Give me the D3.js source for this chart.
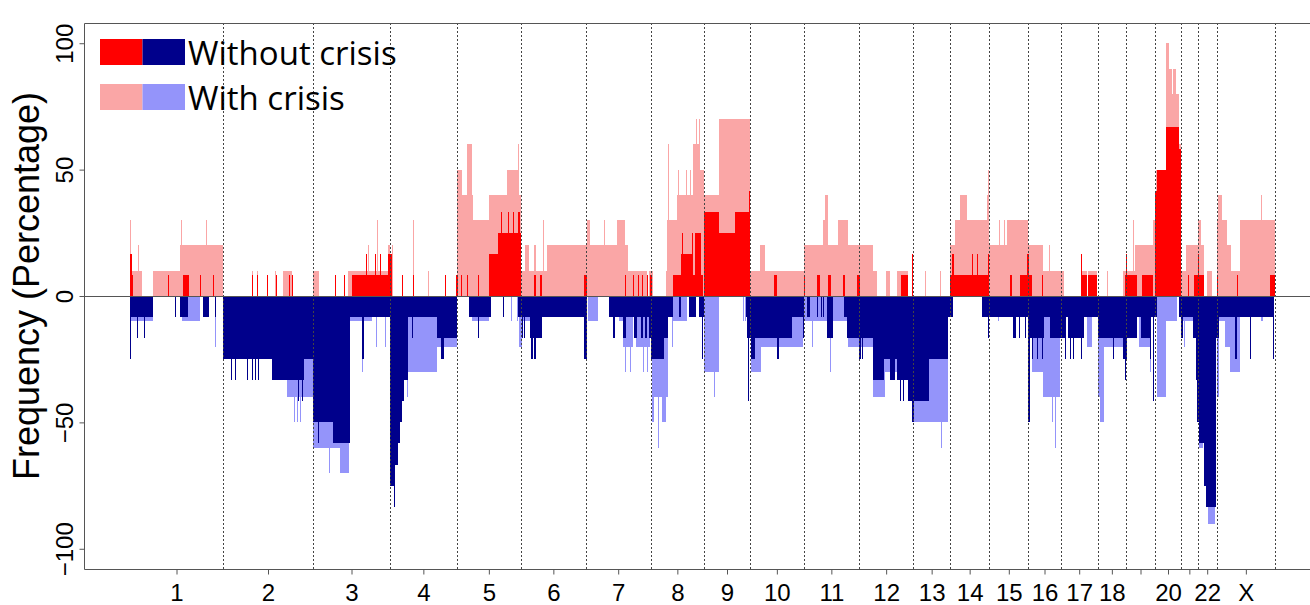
<!DOCTYPE html>
<html>
<head>
<meta charset="utf-8">
<script src="https://cdn.jsdelivr.net/npm/d3@7"></script>
<style>
  body { margin: 0; background: #fff; }
  svg { display: block; }
</style>
</head>
<body>
<svg id="chart" width="1310" height="605"></svg>
<script>
// chromosomes in plotting order, sizes in probe units
const chromosomes = ["1", "2", "3", "4", "5", "6", "7", "8", "9", "10", "11", "12",
  "13", "14", "15", "16", "17", "18", "19", "20", "21", "22", "X"];
const chromSizes = [93, 90, 77, 66.7, 64.3, 64.7, 65, 53.3, 46, 53.7, 55.3, 54.3,
  36.7, 39.3, 39, 32.4, 37, 28.3, 29, 26, 16.7, 19, 58.3];
// R drops the labels of 19 and 21 (no room)
const chromLabels = ["1", "2", "3", "4", "5", "6", "7", "8", "9", "10", "11", "12",
  "13", "14", "15", "16", "17", "18", "", "20", "", "22", "X"];
const yTicks = [-100, -50, 0, 50, 100];

// segments: [chromosome, start, end, frequency %]
const gainWithCrisis = [
  ["1", 0, 1, 30], ["1", 1, 11.7, 10], ["1", 7.5, 8.5, 20], ["1", 22.7, 50, 10], ["1", 50, 93, 20],
  ["1", 51, 52, 30], ["1", 75.5, 76.5, 30],
  ["2", 29, 30, 10], ["2", 34, 35, 10], ["2", 52, 53, 10], ["2", 60.3, 68.7, 10],
  ["3", 0, 6.3, 10], ["3", 35.3, 77, 10], ["3", 54.7, 55.7, 20], ["3", 63.7, 64.7, 30], ["3", 75, 77, 20],
  ["4", 2, 3, 20], ["4", 23, 24, 30], ["4", 38, 39, 10],
  ["5", 0, 5, 50], ["5", 5, 10, 40], ["5", 10, 15, 60], ["5", 15, 16.6, 40], ["5", 16.6, 32.6, 30],
  ["5", 32.6, 50, 40], ["5", 50, 62.3, 50], ["5", 62.3, 64.3, 40], ["5", 61, 62, 60],
  ["6", 0, 4.3, 10], ["6", 4.3, 8.3, 20], ["6", 8.3, 13, 10], ["6", 13, 15, 20], ["6", 15, 25.7, 10],
  ["6", 21.5, 22.5, 30], ["6", 25.7, 64.7, 20],
  ["7", 0, 42.6, 20], ["7", 1, 4.3, 30], ["7", 18.3, 19.3, 30], ["7", 31, 39.3, 30],
  ["7", 42.6, 61, 10], ["7", 63.5, 65, 10],
  ["8", 0, 2.6, 10], ["8", 15.5, 16.5, 10], ["8", 16.6, 26.6, 30], ["8", 17.2, 18.2, 60],
  ["8", 26.6, 42.6, 40], ["8", 26.8, 27.8, 50], ["8", 35.5, 36.5, 50], ["8", 39, 40, 50],
  ["8", 42.6, 49.3, 60], ["8", 45.5, 46.5, 70], ["8", 48.3, 49.3, 70], ["8", 49.3, 53.3, 50],
  ["9", 0, 15.3, 40], ["9", 15.3, 46, 70],
  ["10", 0, 53.7, 10], ["10", 10, 15, 20],
  ["11", 0, 19.6, 20], ["11", 19.6, 24.6, 30], ["11", 21.3, 24, 40], ["11", 24.6, 34.6, 20],
  ["11", 34.6, 44.6, 30], ["11", 44.6, 55.3, 20],
  ["12", 0, 14.3, 20], ["12", 14.3, 17.7, 10], ["12", 27, 31, 10], ["12", 37.7, 48.7, 10],
  ["13", 12, 13, 10], ["13", 26.7, 27.7, 10],
  ["14", 0, 5, 20], ["14", 5, 10, 30], ["14", 10, 17.3, 40], ["14", 17.3, 36.7, 30],
  ["14", 36.7, 39.3, 40], ["14", 38, 39, 50],
  ["15", 0, 17.4, 20], ["15", 17.4, 39, 30], ["15", 10, 11, 30], ["15", 14.7, 15.7, 30],
  ["16", 0, 14.4, 20], ["16", 14.4, 32.4, 10], ["16", 21, 22, 20],
  ["17", 0, 3.3, 10], ["17", 20.3, 26, 10], ["17", 27.6, 36.6, 10],
  ["18", 9, 10, 10], ["18", 25.6, 28.3, 10],
  ["19", 0, 9, 10], ["19", 7, 8, 30], ["19", 9, 26.7, 20], ["19", 26.7, 29, 30],
  ["20", 0, 0.7, 30], ["20", 0.7, 11, 50], ["20", 11, 14.3, 100], ["20", 14.3, 16.7, 90],
  ["20", 16.7, 18.3, 80], ["20", 18.3, 21, 90], ["20", 21, 24.3, 80], ["20", 24.3, 26, 60],
  ["21", 0, 5, 10], ["21", 5, 16.7, 20],
  ["22", 0, 6.6, 20], ["22", 0.6, 3, 30], ["22", 9, 14, 10],
  ["X", 0, 2.6, 30], ["X", 1.6, 5, 40], ["X", 5, 10, 30], ["X", 10, 14, 20], ["X", 14, 23.3, 10],
  ["X", 23.3, 58.3, 30], ["X", 44.5, 45.5, 40]
];

const gainWithoutCrisis = [
  ["1", 0, 1.7, 16.7], ["1", 1.7, 3.3, 8.3], ["1", 38, 39, 8.3], ["1", 52.7, 59, 8.3],
  ["1", 70, 71, 8.3], ["1", 83, 84, 8.3],
  ["2", 29, 30, 8.3], ["2", 33.5, 34.5, 8.3], ["2", 43.5, 44.5, 8.3], ["2", 52.5, 53.5, 8.3],
  ["2", 66, 67, 8.3], ["2", 68.5, 69.5, 8.3],
  ["3", 22, 23, 8.3], ["3", 31, 32, 8.3], ["3", 38.7, 75.3, 8.3], ["3", 52.5, 53.5, 16.7],
  ["3", 61.5, 62.5, 16.7], ["3", 66.5, 67.5, 16.7], ["3", 74.5, 77, 16.7],
  ["4", 0, 1.5, 16.7], ["4", 11.5, 12.5, 8.3], ["4", 23, 24, 8.3], ["4", 55, 56, 8.3], ["4", 65.5, 66.7, 8.3],
  ["5", 0, 0.7, 8.3], ["5", 4, 5, 8.3], ["5", 10, 11, 8.3], ["5", 21, 22, 8.3], ["5", 32.6, 64.3, 8.3],
  ["5", 32.6, 41.6, 16.7], ["5", 41.6, 64.3, 25], ["5", 44, 45, 33.3], ["5", 51.6, 52.6, 33.3],
  ["5", 56, 57, 33.3], ["5", 61, 63.3, 33.3],
  ["6", 13.3, 14.7, 8.3], ["6", 19, 20.7, 8.3], ["6", 63, 64.7, 8.3],
  ["7", 0, 1, 8.3], ["7", 39.3, 40.3, 8.3], ["7", 47.6, 48.6, 8.3], ["7", 52.6, 53.6, 8.3],
  ["7", 56, 57, 8.3], ["7", 61, 62, 8.3], ["7", 64.3, 65, 8.3],
  ["8", 0, 1.6, 8.3], ["8", 22.6, 52.6, 8.3], ["8", 30, 42.6, 16.7], ["8", 31.6, 32.6, 25],
  ["8", 41, 42, 25], ["8", 44.3, 50, 25],
  ["9", 0, 15.3, 33.3], ["9", 15.3, 31, 25], ["9", 31, 46, 33.3], ["9", 45, 46, 41.7],
  ["10", 24.3, 26.7, 8.3],
  ["11", 0, 1.3, 8.3], ["11", 13.3, 16.3, 8.3], ["11", 24.3, 27, 8.3], ["11", 39.3, 41.3, 8.3],
  ["11", 53, 55.3, 8.3],
  ["12", 0, 1, 8.3], ["12", 42, 48.7, 8.3], ["12", 53, 54.3, 16.7],
  ["14", 0, 39.3, 8.3], ["14", 1.7, 4, 16.7], ["14", 21.7, 22.7, 16.7], ["14", 26.7, 27.7, 16.7],
  ["14", 37.7, 39.3, 16.7],
  ["15", 20.7, 22.7, 8.3], ["15", 30.7, 39, 8.3], ["15", 37.4, 39, 16.7],
  ["16", 0, 3.4, 8.3], ["16", 0, 1, 16.7], ["16", 13.4, 14.4, 8.3],
  ["17", 20.3, 26, 8.3], ["17", 20.6, 21.6, 16.7], ["17", 27.6, 36.6, 8.3],
  ["18", 27, 28.3, 8.3],
  ["19", 0, 10.7, 8.3], ["19", 0, 0.7, 16.7], ["19", 15.7, 27.3, 8.3],
  ["20", 0, 1.7, 41.7], ["20", 1.7, 11, 50], ["20", 11, 24.3, 66.7], ["20", 24.3, 26, 58.3],
  ["21", 7.3, 8.3, 8.3], ["21", 13.3, 16.7, 8.3],
  ["22", 0, 6.6, 8.3], ["22", 0, 1, 16.7],
  ["X", 0, 0.8, 8.3], ["X", 20, 21, 8.3], ["X", 53.3, 58.3, 8.3]
];

const lossWithCrisis = [
  ["1", 1, 23.3, -10], ["1", 52, 70, -10], ["1", 85, 86, -20],
  ["2", 63.7, 90, -40], ["2", 71, 72, -50], ["2", 74, 75, -50], ["2", 77, 78, -50],
  ["3", 0, 27, -60], ["3", 16, 17, -70], ["3", 27, 36, -70], ["3", 37, 59, -10],
  ["3", 49, 50, -30], ["3", 63, 64, -20], ["3", 72, 73, -20],
  ["4", 16.5, 17.5, -40], ["4", 17.5, 47, -30], ["4", 47, 66.7, -20],
  ["5", 15, 32.6, -10], ["5", 54, 55, -10], ["5", 60, 61, -10], ["5", 62, 64.3, -20],
  ["6", 0, 9.7, -10], ["6", 0, 1, -20],
  ["7", 2, 12.6, -10], ["7", 33.3, 37.6, -10], ["7", 37.6, 47.6, -20], ["7", 39.3, 40.3, -30],
  ["7", 44.3, 45.3, -30], ["7", 50.3, 64.3, -20], ["7", 57.6, 58.6, -30], ["7", 61, 62, -30],
  ["8", 1, 17.6, -40], ["8", 1.6, 3.3, -50], ["8", 11.6, 15, -50], ["8", 7.6, 8.6, -60],
  ["8", 21, 22, -20], ["8", 22.6, 36, -10],
  ["9", 0, 15.3, -30], ["9", 10, 11, -40], ["9", 39, 40, -10], ["9", 40.5, 41.5, -10],
  ["10", 0.7, 53.3, -20], ["10", 0.7, 10.7, -30],
  ["11", 0, 23, -10], ["11", 8, 9, -20], ["11", 26.3, 27.3, -30], ["11", 29.6, 43, -10],
  ["11", 44.6, 55.3, -20],
  ["12", 0, 14.3, -20], ["12", 14.3, 26, -40], ["12", 26, 37.7, -30], ["12", 52.7, 54.3, -50],
  ["13", 0, 35, -50], ["13", 27.4, 28.4, -60],
  ["15", 9, 10, -10], ["15", 24, 25, -10],
  ["16", 3.4, 31.7, -30], ["16", 15, 31.7, -40], ["16", 24, 25, -50], ["16", 26.7, 27.7, -60],
  ["17", 4, 5, -20], ["17", 25.9, 31, -20],
  ["18", 0.6, 6.3, -40], ["18", 2.3, 6.3, -50], ["18", 5.6, 25.6, -20],
  ["19", 12.7, 24.7, -20], ["19", 23.5, 24.5, -30],
  ["20", 2.3, 11, -40], ["20", 11, 22, -10],
  ["21", 1.7, 12.3, -10], ["21", 3, 4, -20],
  ["22", 1.3, 5.6, -60], ["22", 10.6, 17.3, -90],
  ["X", 0, 2.6, -40], ["X", 2.6, 16.6, -10], ["X", 8.3, 23.3, -20], ["X", 13.3, 23.3, -30],
  ["X", 44, 46, -10]
];

const lossWithoutCrisis = [
  ["1", 0, 23.3, -8.3], ["1", 0, 1, -25], ["1", 7.2, 8.2, -16.7], ["1", 13.5, 14.5, -16.7],
  ["1", 45, 46, -8.3], ["1", 50, 58.3, -8.3], ["1", 73.3, 79, -8.3], ["1", 85, 86, -8.3],
  ["2", 0, 48.7, -25], ["2", 7.5, 8.5, -33.3], ["2", 11.5, 12.5, -33.3], ["2", 23.5, 25, -33.3],
  ["2", 28.5, 29.5, -33.3], ["2", 31.5, 32.5, -33.3], ["2", 34.5, 35.5, -33.3],
  ["2", 48.7, 81.3, -33.3], ["2", 75, 76, -41.7], ["2", 78.5, 79.5, -41.7], ["2", 81.3, 90, -25],
  ["3", 0, 37, -50], ["3", 20, 37, -58.3], ["3", 5, 6, -58.3], ["3", 37, 77, -8.3],
  ["3", 49, 50.5, -25],
  ["4", 0, 66.7, -8.3], ["4", 0, 5, -75], ["4", 4, 5, -83.3], ["4", 5, 7.5, -66.7],
  ["4", 7.5, 10, -58.3], ["4", 10, 12, -50], ["4", 12, 14, -41.7], ["4", 14, 17.5, -33.3],
  ["4", 22, 23, -16.7], ["4", 47, 66.7, -16.7], ["4", 50.5, 54, -25],
  ["5", 12.3, 34.3, -8.3], ["5", 21.6, 22.6, -16.7], ["5", 46.6, 47.6, -8.3], ["5", 61.6, 64.3, -8.3],
  ["6", 0, 64.7, -8.3], ["6", 1, 2, -16.7], ["6", 2.5, 3.5, -16.7], ["6", 9, 21.3, -16.7],
  ["6", 9.7, 11.7, -25], ["6", 13, 15, -25], ["6", 63, 64.7, -25],
  ["7", 0, 1, -25], ["7", 23.6, 64.3, -8.3], ["7", 27, 29.3, -16.7], ["7", 37.6, 40.3, -16.7],
  ["7", 48.6, 51, -16.7], ["7", 55, 57.3, -16.7], ["7", 59.6, 61.6, -16.7], ["7", 63, 65, -16.7],
  ["8", 0, 22.6, -8.3], ["8", 0, 17.6, -16.7], ["8", 0, 13.3, -25], ["8", 28.6, 30.3, -8.3],
  ["8", 38.6, 45.3, -8.3], ["8", 48.6, 53.3, -8.3], ["8", 51.6, 52.6, -25],
  ["9", 41.5, 42.5, -8.3], ["9", 42.7, 46, -16.7], ["9", 44, 45, -41.7],
  ["10", 0, 53.7, -8.3], ["10", 0, 41.7, -16.7], ["10", 0.7, 5, -25], ["10", 27.3, 29.3, -25],
  ["10", 52.5, 53.5, -16.7],
  ["11", 3, 6.3, -8.3], ["11", 13.3, 14.3, -8.3], ["11", 17, 18, -8.3], ["11", 19, 20, -8.3],
  ["11", 23, 29.6, -16.7], ["11", 40, 43, -8.3], ["11", 43, 55.3, -16.7],
  ["12", 0, 54.3, -8.3], ["12", 0, 14.3, -16.7], ["12", 0, 1.7, -25], ["12", 3.3, 4.3, -25],
  ["12", 14.3, 25, -33.3], ["12", 25, 31, -25], ["12", 31, 36, -33.3], ["12", 36, 37.7, -25],
  ["12", 37.7, 49.3, -33.3], ["12", 41, 42, -41.7], ["12", 43.5, 44.5, -41.7],
  ["12", 49.3, 54.3, -41.7], ["12", 52.7, 54.3, -50],
  ["13", 0, 36.7, -8.3], ["13", 0, 15.7, -41.7], ["13", 0, 0.7, -50], ["13", 15.7, 35, -25],
  ["14", 0, 2.7, -8.3], ["14", 31.7, 39.3, -8.3], ["14", 38, 39, -16.7],
  ["15", 0, 39, -8.3], ["15", 24, 26.7, -16.7], ["15", 30, 31, -16.7], ["15", 35.7, 36.7, -16.7],
  ["16", 0, 32.4, -8.3], ["16", 0, 15.7, -16.7], ["16", 0, 1.7, -50], ["16", 3.4, 4.4, -25],
  ["16", 8.4, 9.4, -25], ["16", 13.4, 14.4, -25], ["16", 21.7, 32.4, -16.7],
  ["17", 0, 37, -8.3], ["17", 0, 5, -16.7], ["17", 7.6, 23.3, -16.7], ["17", 4, 5, -25],
  ["17", 9, 10, -25], ["17", 12.6, 13.6, -25], ["17", 20, 21, -25],
  ["18", 0, 28.3, -16.7], ["18", 15, 16, -25], ["18", 25.6, 28.3, -25], ["18", 27, 28.3, -33.3],
  ["19", 0, 29, -8.3], ["19", 0, 10.7, -16.7], ["19", 0, 1.3, -25], ["19", 14.7, 24.7, -16.7],
  ["19", 23.5, 24.5, -25], ["19", 27, 28, -41.7],
  ["20", 0, 2.3, -8.3], ["20", 24.3, 26, -8.3],
  ["21", 0, 16.7, -8.3], ["21", 0, 1.7, -16.7], ["21", 12.3, 16.7, -16.7], ["21", 14.7, 15.7, -33.3],
  ["21", 15.7, 16.7, -50],
  ["22", 0, 19, -8.3], ["22", 0, 1.3, -50], ["22", 1.3, 6.6, -58.3], ["22", 6.6, 8.3, -75],
  ["22", 8.3, 18.3, -83.3], ["22", 18.3, 19, -16.7],
  ["X", 0, 57.6, -8.3], ["X", 0, 2.6, -16.7], ["X", 18.3, 20, -25], ["X", 33, 34, -25],
  ["X", 56.6, 57.6, -25]
];

const colors = {
  gainWith: "#faa6a6",
  gainWithout: "#ff0000",
  lossWith: "#9494fa",
  lossWithout: "#00008b"
};

const svg = d3.select("#chart");

// cumulative chromosome starts
const chromStart = {};
let acc = 0;
chromosomes.forEach((c, i) => { chromStart[c] = acc; acc += chromSizes[i]; });
const total = acc;

const x = d3.scaleLinear().domain([0, total]).range([130, 1275]);
const y = d3.scaleLinear().domain([-108, 108]).range([569, 23]);
const left = x(-0.04 * total);
const right = x(1.04 * total);

function drawSegments(data, color) {
  svg.append("g")
    .selectAll("rect")
    .data(data)
    .join("rect")
      .attr("x", d => x(chromStart[d[0]] + d[1]))
      .attr("width", d => Math.max(1, x(chromStart[d[0]] + d[2]) - x(chromStart[d[0]] + d[1])))
      .attr("y", d => Math.min(y(0), y(d[3])))
      .attr("height", d => Math.abs(y(d[3]) - y(0)))
      .attr("fill", color)
      .attr("shape-rendering", "crispEdges");
}

drawSegments(gainWithCrisis, colors.gainWith);
drawSegments(gainWithoutCrisis, colors.gainWithout);
drawSegments(lossWithCrisis, colors.lossWith);
drawSegments(lossWithoutCrisis, colors.lossWithout);

// chromosome boundaries
const ends = chromosomes.map((c, i) => chromStart[c] + chromSizes[i]);
svg.append("g")
  .selectAll("line")
  .data(ends)
  .join("line")
    .attr("x1", d => Math.round(x(d)) + 0.5)
    .attr("x2", d => Math.round(x(d)) + 0.5)
    .attr("y1", y(108))
    .attr("y2", y(-108))
    .attr("stroke", "#444")
    .attr("stroke-width", 1)
    .attr("stroke-dasharray", "2,2");

// zero line
svg.append("line")
  .attr("x1", left).attr("x2", right)
  .attr("y1", Math.round(y(0)) + 0.5).attr("y2", Math.round(y(0)) + 0.5)
  .attr("stroke", "#555");

// frame
svg.append("path")
  .attr("d", `M${right},${Math.round(y(108)) + 0.5}H${Math.round(left) + 0.5}V${Math.round(y(-108)) + 0.5}H${right}`)
  .attr("fill", "none")
  .attr("stroke", "#555");

// y axis
const yAxis = svg.append("g")
  .attr("transform", `translate(${Math.round(left) + 0.5},0)`)
  .call(d3.axisLeft(y).tickValues(yTicks).tickSize(5).tickFormat(d => d < 0 ? "\u2212" + Math.abs(d) : d));
yAxis.select(".domain").remove();
yAxis.selectAll("line").attr("stroke", "#555");
yAxis.selectAll("text")
  .attr("x", null).attr("dy", null)
  .attr("text-anchor", "middle")
  .attr("transform", "translate(-12,0) rotate(-90)")
  .attr("fill", "#000")
  .style("font", "24px 'Liberation Sans', Arial, sans-serif");

// x axis
const centers = chromosomes.map((c, i) => chromStart[c] + chromSizes[i] / 2);
const xAxis = svg.append("g")
  .attr("transform", `translate(0,${Math.round(y(-108)) + 0.5})`)
  .call(d3.axisBottom(x).tickValues(centers).tickSize(5).tickFormat((d, i) => chromLabels[i]));
xAxis.select(".domain").remove();
xAxis.selectAll("line").attr("stroke", "#555");
xAxis.selectAll("text")
  .attr("y", 31).attr("dy", null)
  .attr("fill", "#000")
  .style("font", "24px 'Liberation Sans', Arial, sans-serif");

// y title
svg.append("text")
  .attr("transform", "translate(39,286) rotate(-90)")
  .attr("text-anchor", "middle")
  .style("font", "36px 'Liberation Sans', Arial, sans-serif")
  .text("Frequency (Percentage)");

// legend
const legendRows = [
  {label: "Without crisis", fills: [colors.gainWithout, colors.lossWithout], top: 39},
  {label: "With crisis", fills: [colors.gainWith, colors.lossWith], top: 84}
];
const legend = svg.append("g");
legendRows.forEach(r => {
  r.fills.forEach((f, j) => {
    legend.append("rect")
      .attr("x", 100 + j * 42.5).attr("y", r.top)
      .attr("width", 42.5).attr("height", 26)
      .attr("fill", f);
  });
  legend.append("text")
    .attr("x", 188).attr("y", r.top + 26)
    .style("font", "33px 'Open Sans', sans-serif")
    .text(r.label);
});
</script>
</body>
</html>
